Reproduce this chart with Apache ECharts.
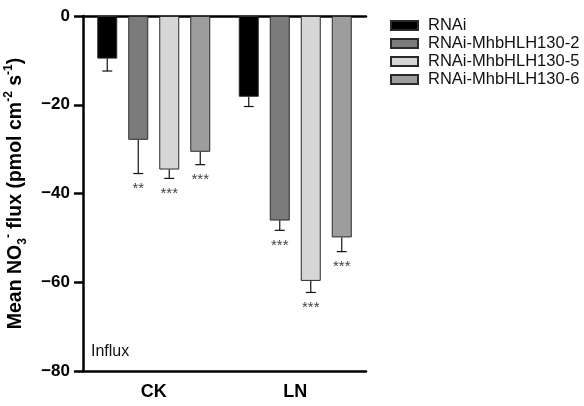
<!DOCTYPE html>
<html>
<head>
<meta charset="utf-8">
<script src="https://cdn.jsdelivr.net/npm/echarts@6/dist/echarts.min.js"></script>
<style>
  html, body { margin: 0; padding: 0; background: #fff; }
  #chart { width: 584px; height: 406px; }
</style>
</head>
<body>
<div id="chart"></div>
<script>
// values
const categories = ['CK', 'LN']
const seriesNames = ['RNAi', 'RNAi-MhbHLH130-2', 'RNAi-MhbHLH130-5', 'RNAi-MhbHLH130-6']
const rnai = [-9.6, -18.2]
const rnai2 = [-27.9, -46.1]
const rnai5 = [-34.6, -59.7]
const rnai6 = [-30.6, -49.9]
const errRnai = [2.8, 2.2]
const err2 = [7.6, 2.2]
const err5 = [2.0, 2.6]
const err6 = [2.9, 3.2]
const starsRnai = ['', '']
const stars2 = ['**', '***']
const stars5 = ['***', '***']
const stars6 = ['***', '***']

const values = [rnai, rnai2, rnai5, rnai6]
const errors = [errRnai, err2, err5, err6]
const stars = [starsRnai, stars2, stars5, stars6]
const colors = ['#000000', '#7b7b7b', '#d6d6d6', '#9d9d9d']

const font = 'Liberation Sans, Arial, sans-serif'
const barW = 20
const step = 31 // bar width + gap

const chart = echarts.init(document.getElementById('chart'))

// error bar + significance stars drawn on top of each bar
function errorSeries(idx) {
  return {
    type: 'custom',
    name: seriesNames[idx] + ' err',
    data: categories.map((c, i) => [i, values[idx][i], errors[idx][i]]),
    renderItem(params, api) {
      const top = api.coord([api.value(0), api.value(1)])
      const end = api.coord([api.value(0), api.value(1) - api.value(2)])
      const x = top[0] + (idx - 1.5) * step
      const cap = 5
      const children = [
        { type: 'line', shape: { x1: x, y1: top[1], x2: x, y2: end[1] }, style: { stroke: '#111', lineWidth: 1.2 } },
        { type: 'line', shape: { x1: x - cap, y1: end[1], x2: x + cap, y2: end[1] }, style: { stroke: '#111', lineWidth: 1.2 } },
      ]
      const s = stars[idx][params.dataIndex]
      if (s) {
        children.push({
          type: 'text',
          style: {
            x: x, y: end[1] + 8, text: s, align: 'center', verticalAlign: 'top',
            font: '15px ' + font, fill: '#444',
          },
        })
      }
      return { type: 'group', children }
    },
    z: 5,
  }
}

const option = {
  animation: false,
  backgroundColor: '#fff',
  grid: { left: 83, right: 218, top: 16, bottom: 35, containLabel: false },
  legend: {
    data: seriesNames,
    orient: 'vertical',
    left: 385,
    top: 12,
    icon: 'rect',
    itemWidth: 27,
    itemHeight: 9,
    itemGap: 1,
    textStyle: { fontFamily: font, fontSize: 16.5, color: '#111', padding: [0, 0, 0, 5] },
  },
  xAxis: [
    {
      type: 'category',
      data: categories,
      position: 'bottom',
      axisLine: { onZero: false, lineStyle: { color: '#000', width: 2.5 } },
      axisTick: { alignWithLabel: true, length: 9, lineStyle: { color: '#000', width: 2.5 } },
      axisLabel: { fontFamily: font, fontWeight: 'bold', fontSize: 18, color: '#000', margin: 12 },
    },
    {
      type: 'category',
      data: categories,
      position: 'top',
      axisLine: { onZero: false, lineStyle: { color: '#000', width: 2.5 } },
      axisTick: { show: false },
      axisLabel: { show: false },
    },
  ],
  yAxis: {
    type: 'value',
    min: -80,
    max: 0,
    interval: 20,
    name: '{b|Mean NO}{sub|3}{sup|-}{b| flux (pmol cm}{sup|-2}{b| s}{sup|-1}{b|)}',
    nameLocation: 'middle',
    nameGap: 54,
    nameRotate: 90,
    nameTextStyle: {
      fontFamily: font,
      fontWeight: 'bold',
      fontSize: 19.5,
      color: '#000',
      rich: {
        b: { fontFamily: font, fontWeight: 'bold', fontSize: 19.5, color: '#000', lineHeight: 26 },
        sub: { fontFamily: font, fontWeight: 'bold', fontSize: 12, color: '#000', verticalAlign: 'bottom', lineHeight: 26, padding: [7, 0, 0, 0] },
        sup: { fontFamily: font, fontWeight: 'bold', fontSize: 12, color: '#000', verticalAlign: 'top', lineHeight: 26, padding: [0, 0, 7, 0] },
      },
    },
    axisLine: { show: true, lineStyle: { color: '#000', width: 2.5 } },
    axisTick: { show: true, length: 9, lineStyle: { color: '#000', width: 2.5 } },
    axisLabel: {
      fontFamily: font, fontWeight: 'bold', fontSize: 17, color: '#000', margin: 13,
      formatter: v => String(v).replace('-', '\u2212'),
    },
    splitLine: { show: false },
  },
  graphic: [
    {
      type: 'text',
      left: 91,
      top: 344,
      style: { text: 'Influx', font: '16px ' + font, fill: '#111' },
    },
  ],
  series: [
    ...seriesNames.map((name, idx) => ({
      type: 'bar',
      name,
      data: values[idx],
      barWidth: barW,
      barGap: '55%',
      itemStyle: { color: colors[idx], borderColor: '#2a2a2a', borderWidth: 1 },
      z: 2,
    })),
    ...seriesNames.map((n, idx) => errorSeries(idx)),
  ],
}

chart.setOption(option)
</script>
</body>
</html>
